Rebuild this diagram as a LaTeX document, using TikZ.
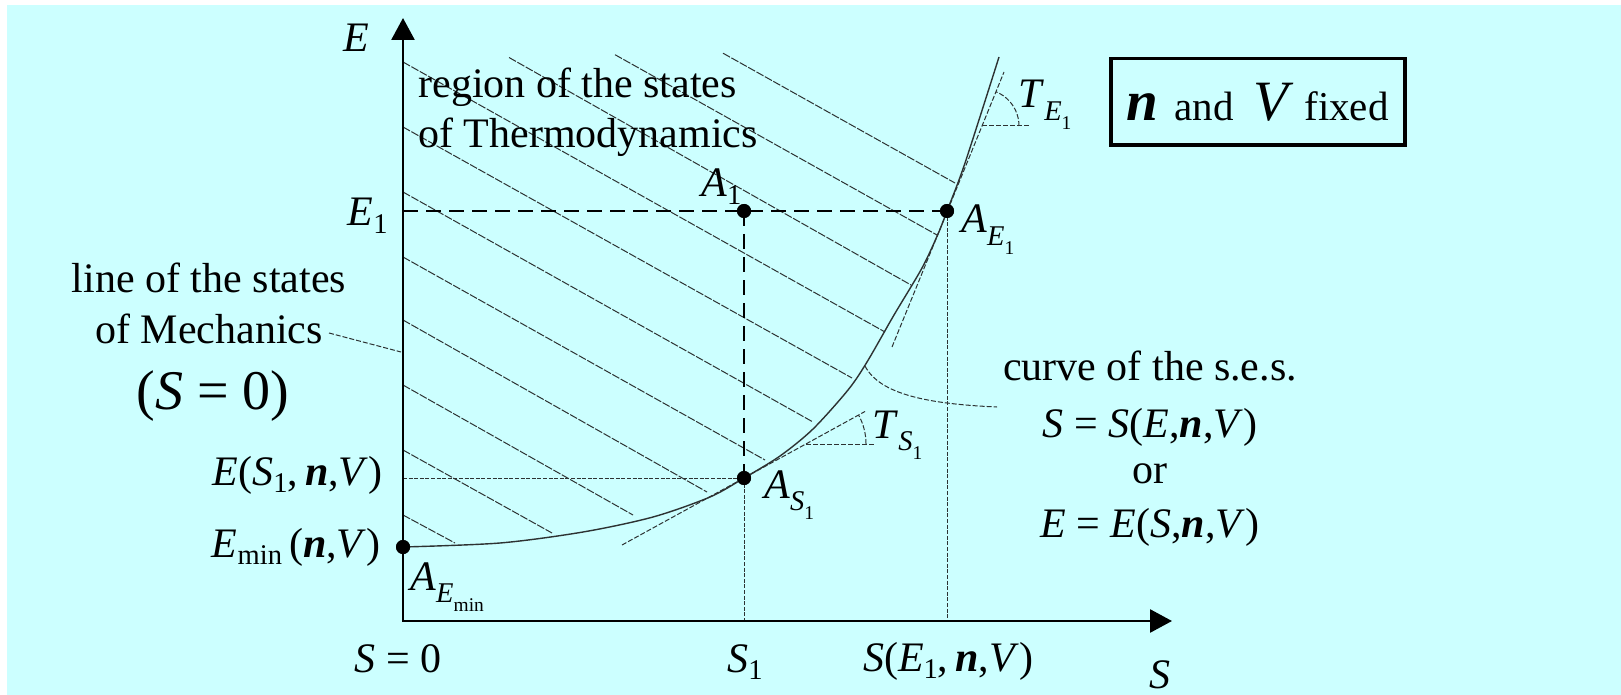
\documentclass[tikz,border=0pt]{standalone}
\usepackage{fontspec}
\setmainfont{Liberation Serif}
\usepackage{graphicx}
\usetikzlibrary{arrows.meta}
\definecolor{bgcyan}{RGB}{204,255,255}
\definecolor{ln}{RGB}{45,50,50}
\newcommand{\vi}[1]{\textit{#1}}
\newcommand{\bnv}{\textbf{\textit{n}}}
\newcommand{\lsub}[1]{\raisebox{-0.18em}{\scalebox{0.68}{#1}}}
\newcommand{\dsub}[1]{\raisebox{-0.3em}{\scalebox{0.68}{#1}}}
\begin{document}
\begin{tikzpicture}[x=0.5pt,y=-0.5pt,
  every node/.style={inner sep=0pt, font=\fontsize{21}{25}\selectfont},
  axisline/.style={line width=1.35pt, {Triangle[length=11pt,width=11.5pt]}-{Triangle[length=11pt,width=11.5pt]}},
  thickdash/.style={line width=1.35pt, dash pattern=on 7.5pt off 4pt},
  thindash/.style={line width=0.5pt, ln, dash pattern=on 2pt off 0.8pt},
  hatch/.style={line width=0.5pt, ln, dash pattern=on 4pt off 0.8pt},
  sescurve/.style={line width=0.7pt, ln},
  leader/.style={line width=0.5pt, ln, dash pattern=on 2.5pt off 1pt},
  dot/.style={circle, fill=black, minimum size=7pt, inner sep=0pt},
  lbl/.style={anchor=base west},
  bigfont/.style={font=\fontsize{28}{30}\selectfont},
]
% background
\fill[white] (0,0) rectangle (1621,695);
\fill[bgcyan] (7,5) rectangle (1621,695);
\useasboundingbox (0,0) rectangle (1621,695);

% named points
\coordinate (O) at (403,621);
\coordinate (ytip) at (403,18);
\coordinate (xtip) at (1172,621);
\node[dot] (A1) at (744,211) {};
\node[dot] (AE1) at (947,211) {};
\node[dot] (AS1) at (744,478) {};
\node[dot] (AEmin) at (403,547) {};
\coordinate (E1axis) at (403,211);
\coordinate (ES1axis) at (403,478);
\coordinate (S1foot) at (744,621);
\coordinate (SE1foot) at (947,621);

% hatching
\foreach \sx/\sy/\ex/\ey in {403/515/455/543, 403/450/552/533, 403/385/633/515,
  403/320/707/492, 403/257/765/460, 403/192/813/422, 403/127/852/378,
  403/62/885/332, 509/57.5/911/285, 615/54.7/937/235, 723/53.2/955/183}
  \draw[hatch] (\sx,\sy) -- (\ex,\ey);

% thin dashed guides
\draw[thindash] (ES1axis) -- (AS1.center);
\draw[thindash] (AS1.center) -- (S1foot);
\draw[thindash] (AE1.center) -- (SE1foot);

% thick dashed guides
\draw[thickdash] (E1axis) -- (AE1.center);
\draw[thickdash] (A1.center) -- (AS1.center);

% tangents and angle marks
\coordinate (tS1a) at (622,545);
\coordinate (tS1b) at (865,411.5);
\coordinate (hS1a) at (806,444);
\coordinate (hS1b) at (875,444);
\draw[leader] (tS1a) -- (tS1b);
\draw[leader] (hS1a) -- (hS1b);
\draw[leader] plot[domain=0:28.7, samples=12, variable=\t] ({806+60*cos(\t)},{444-60*sin(\t)});

\coordinate (tE1a) at (892,347);
\coordinate (tE1b) at (1004,72);
\coordinate (hE1a) at (982,126);
\coordinate (hE1b) at (1030,126);
\draw[leader] (tE1a) -- (tE1b);
\draw[leader] (hE1a) -- (hE1b);
\draw[leader] plot[domain=0:67.7, samples=12, variable=\t] ({982+37*cos(\t)},{126-37*sin(\t)});

% curve of stable equilibrium states
\draw[sescurve] plot[smooth, tension=0.5] coordinates {(AEmin.center) (500,543) (583,532) (653,517) (710,497) (AS1.center) (780,456) (813,429) (848,390) (867,362) (894,315) (922,268) (938,234) (AE1.center) (965,163) (999,57)};

% leaders
\coordinate (curveLeadA) at (865,366);
\coordinate (curveLeadB) at (997,407);
\draw[leader] (curveLeadA) .. controls (880,395) and (930,404) .. (curveLeadB);
\coordinate (mechLeadA) at (329,333);
\coordinate (mechLeadB) at (401,352);
\draw[leader] (mechLeadA) -- (mechLeadB);

% axes
\draw[axisline] (ytip) -- (O) -- (xtip);

% dots on top
\node[dot] at (A1) {};
\node[dot] at (AE1) {};
\node[dot] at (AS1) {};
\node[dot] at (AEmin) {};

% labels
\node[lbl] (Elab) at (343,52) {\vi{E}};
\node[anchor=base east] (E1lab) at (388,226) {\vi{E}\lsub{1}};
\node[anchor=base east] (ES1lab) at (383,485) {\vi{E}(\vi{S}\lsub{1},\,\bnv,\vi{V})};
\node[anchor=base east] (Eminlab) at (381,557) {\vi{E}\lsub{min}\,(\bnv,\vi{V})};
\node[lbl] (AEminlab) at (410,590) {\vi{A}\dsub{\vi{E}\dsub{min}}};
\node[lbl] (AS1lab) at (764,498) {\vi{A}\dsub{\vi{S}\dsub{1}}};
\node[lbl] (A1lab) at (701,197) {\vi{A}\lsub{1}};
\node[lbl] (AE1lab) at (961,233) {\vi{A}\dsub{\vi{E}\dsub{1}}};
\node[lbl] (TE1lab) at (1018,108) {\vi{T}\dsub{\vi{E}\dsub{1}}};
\node[lbl] (TS1lab) at (872,438) {\vi{T}\dsub{\vi{S}\dsub{1}}};

\node[anchor=base] (S0lab) at (398,672) {\vi{S} = 0};
\node[anchor=base] (S1lab) at (745,672) {\vi{S}\lsub{1}};
\node[anchor=base] (SE1lab) at (948,671) {\vi{S}(\vi{E}\lsub{1},\,\bnv,\vi{V})};
\node[anchor=base] (Saxis) at (1160,688) {\vi{S}};

\node[anchor=base west, align=left] (region) at (418,148) {region of the states\\of Thermodynamics};
\node[anchor=base, align=center] (mech) at (209,343) {line of the states\\of Mechanics};
\node[anchor=base, bigfont] (Szero) at (213,409) {(\vi{S} = 0)};

\node[anchor=base] (curvelab) at (1150,380) {curve of the s.e.s.};
\node[anchor=base] (f1) at (1150,437) {\vi{S} = \vi{S}(\vi{E},\bnv,\vi{V})};
\node[anchor=base] (orlab) at (1150,483) {or};
\node[anchor=base] (f2) at (1150,537) {\vi{E} = \vi{E}(\vi{S},\bnv,\vi{V})};

\node[draw, line width=1.75pt, minimum width=147pt, minimum height=43.25pt, font=\fontsize{20.5}{24}\selectfont] (fixed) at (1257.75,102)
  {{\fontsize{28.5}{30}\selectfont\bnv}\hspace{8pt}and\hspace{10pt}{\fontsize{28.5}{30}\selectfont\vi{V}} fixed};
\end{tikzpicture}
\end{document}
